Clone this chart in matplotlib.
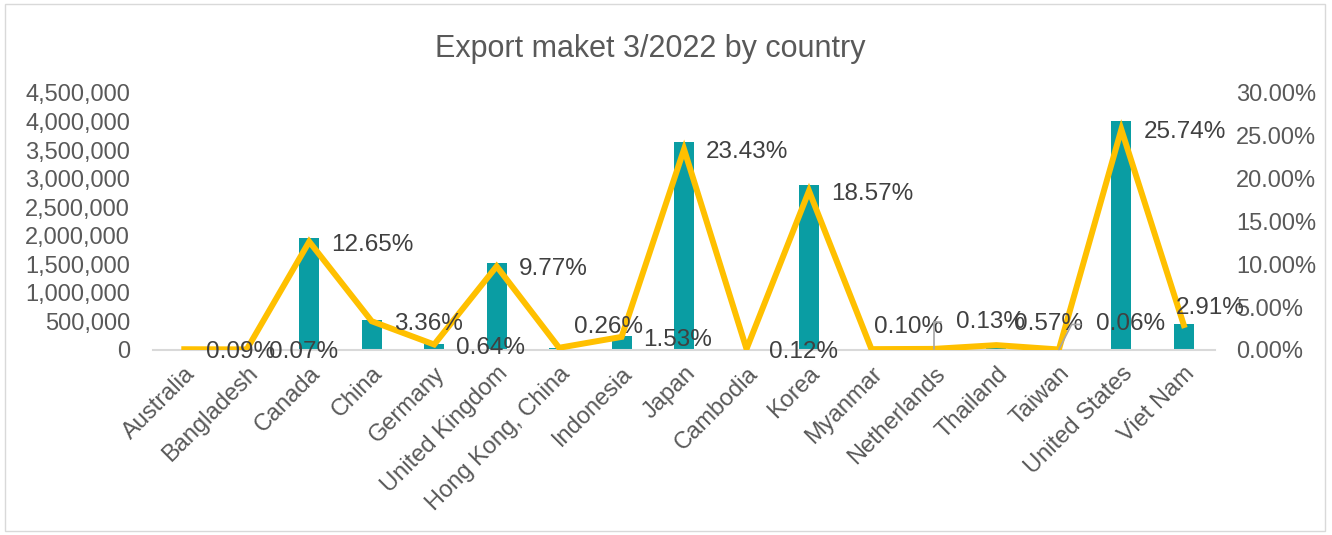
import numpy as np
import matplotlib
matplotlib.use("Agg")
from matplotlib import pyplot as plt
from matplotlib.ticker import FuncFormatter, PercentFormatter
from matplotlib.patches import Rectangle

plt.rcParams['font.family'] = ['Liberation Sans', 'DejaVu Sans']

# data
countries = ['Australia', 'Bangladesh', 'Canada', 'China', 'Germany', 'United Kingdom',
             'Hong Kong, China', 'Indonesia', 'Japan', 'Cambodia', 'Korea', 'Myanmar',
             'Netherlands', 'Thailand', 'Taiwan', 'United States', 'Viet Nam']
export_value = [14000, 11000, 1968000, 523000, 100000, 1520000, 40000, 238000, 3645000,
                19000, 2889000, 16000, 20000, 89000, 9000, 4005000, 453000]
share_pct = [0.09, 0.07, 12.65, 3.36, 0.64, 9.77, 0.26, 1.53, 23.43, 0.12, 18.57, 0.10,
             0.13, 0.57, 0.06, 25.74, 2.91]

# label offsets in pixels (dx to left edge, dy up)
label_offsets = [(22, -3)] * 17
label_offsets[6] = (15, 21)
label_offsets[11] = (3, 22)
label_offsets[12] = (22, 27)
label_offsets[13] = (18, 21)
label_offsets[14] = (37, 25)
label_offsets[16] = (-8, 17)
leaders = {12: 'angle,angleA=0,angleB=90', 14: 'angle,angleA=0,angleB=63'}

bar_color = '#0A9DA3'
line_color = '#FFC000'
text_color = '#595959'

fig = plt.figure(figsize=(13.32, 5.35), dpi=100)
fig.patches.append(Rectangle((0.004, 0.008), 0.991, 0.985, transform=fig.transFigure,
                             fill=False, edgecolor='#D9D9D9', linewidth=1))
ax = fig.add_axes([0.1149, 0.3458, 0.7973, 0.4804])
x = np.arange(len(countries))
ax.bar(x, export_value, width=0.32, color=bar_color, zorder=2)
ax.set_xlim(-0.5, len(countries) - 0.5)
ax.set_ylim(0, 4500000)
ax.set_yticks(np.arange(0, 4500001, 500000))
ax.yaxis.set_major_formatter(FuncFormatter(lambda v, p: f'{int(v):,}'))
ax.set_xticks(x)
ax.set_xticklabels(countries, rotation=45, ha='right', rotation_mode='anchor')
ax.tick_params(axis='both', length=0, labelsize=17, colors=text_color)
ax.tick_params(axis='y', pad=16.5)
ax.tick_params(axis='x', pad=9)
for s in ['top', 'left', 'right']:
    ax.spines[s].set_visible(False)
ax.spines['bottom'].set_color('#D9D9D9')
ax.spines['bottom'].set_linewidth(1.5)

ax2 = ax.twinx()
ax2.plot(x, share_pct, color=line_color, linewidth=4.3, solid_joinstyle='miter', zorder=3)
ax2.set_ylim(0, 30)
ax2.set_yticks(np.arange(0, 31, 5))
ax2.yaxis.set_major_formatter(PercentFormatter(decimals=2))
ax2.tick_params(axis='y', length=0, labelsize=17, colors=text_color, pad=15)
for s in ['top', 'left', 'right', 'bottom']:
    ax2.spines[s].set_visible(False)

for i, v in enumerate(share_pct):
    dx, dy = label_offsets[i]
    props = None
    if i in leaders:
        props = dict(arrowstyle='-', color='#A6A6A6', lw=1.2, connectionstyle=leaders[i],
                     relpos=(0, 0.5), shrinkA=9, shrinkB=0)
    ax2.annotate(f'{v:.2f}%', (i, v), xytext=(dx, dy), textcoords='offset pixels',
                 ha='left', va='center', fontsize=17.5, color='#404040',
                 arrowprops=props, zorder=4)

fig.suptitle('Export maket 3/2022 by country', x=0.488, y=0.937, fontsize=22,
             color=text_color)
fig.savefig('out.png', dpi=100)
